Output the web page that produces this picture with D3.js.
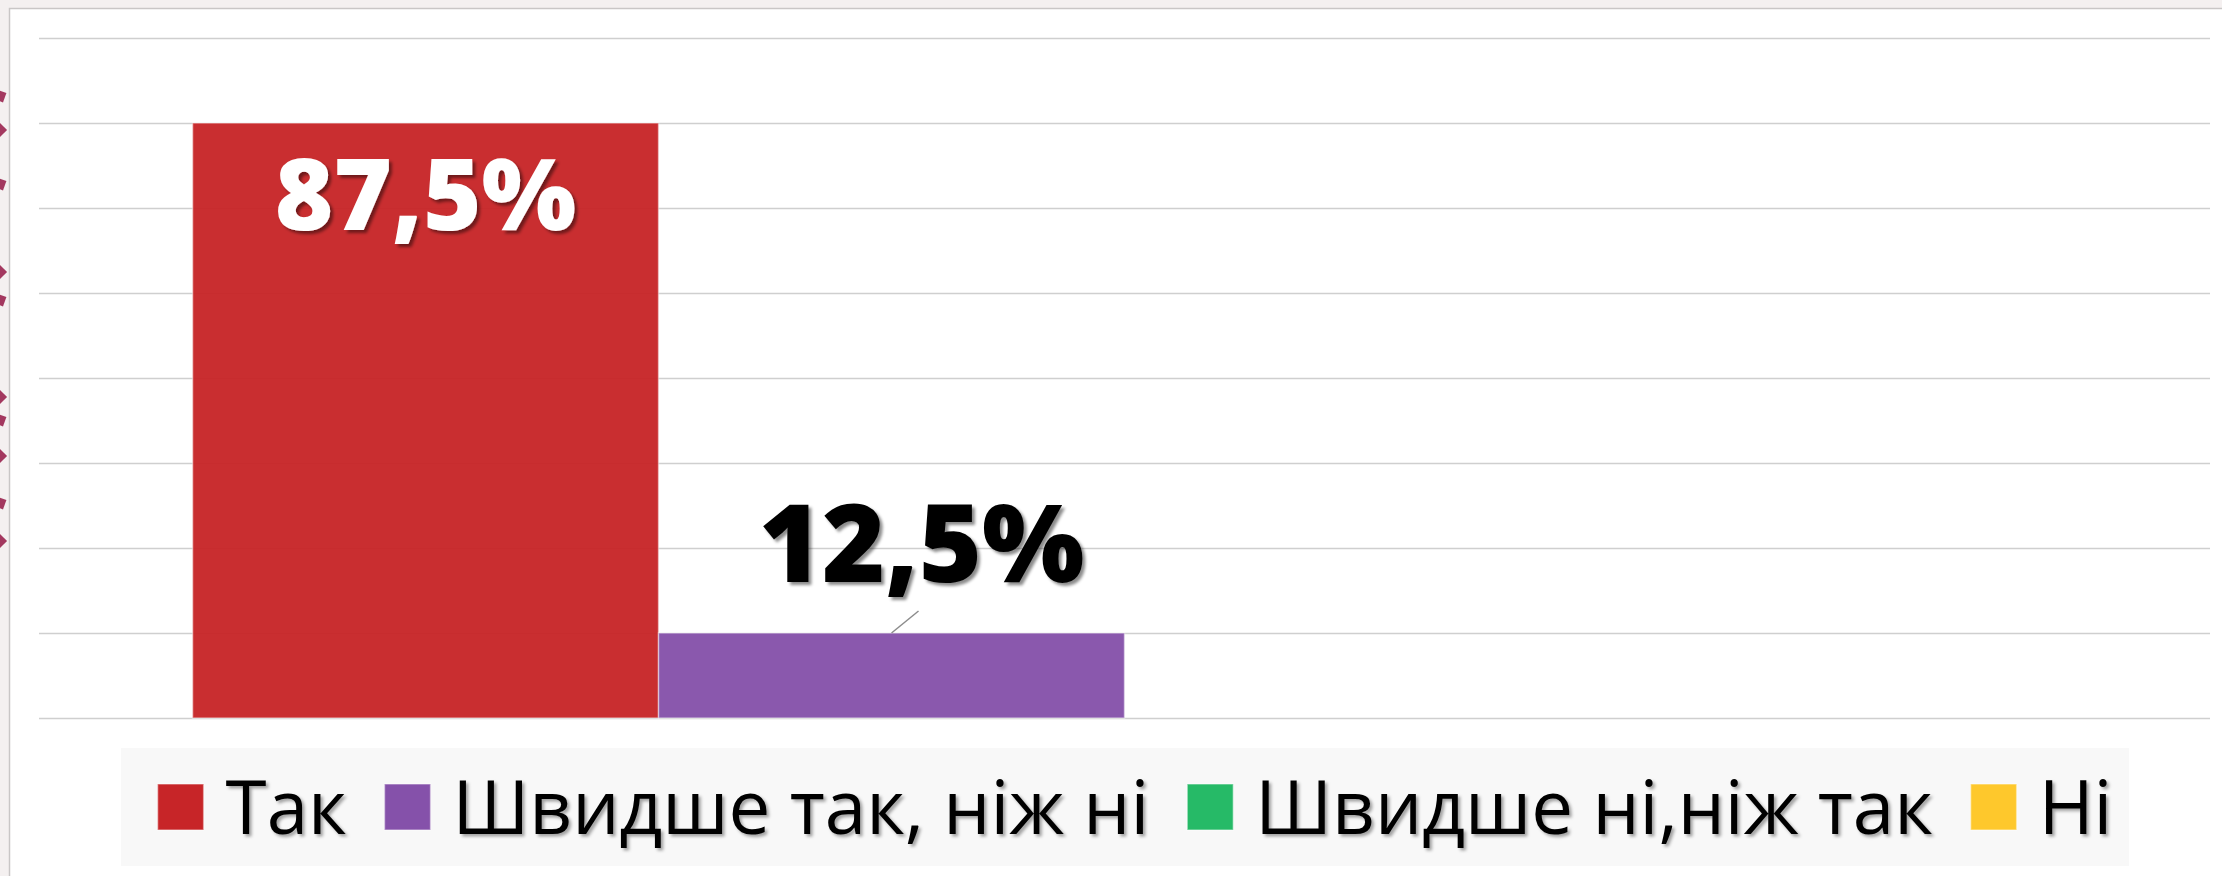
<!DOCTYPE html>
<html>
<head>
<meta charset="utf-8">
<script src="https://cdn.jsdelivr.net/npm/d3@7"></script>
<style>
	html, body { margin: 0; padding: 0; background: #f4f0f0; overflow: hidden; }
	svg { display: block; }
</style>
</head>
<body>
<div id="my_dataviz"></div>
<script>
// data
const categories = [ 'Питання' ];
const seriesNames = [ 'Так', 'Швидше так, ніж ні', 'Швидше ні,ніж так', 'Ні' ];
const seriesValues = [ 87.5, 12.5, 0, 0 ];
const valueLabels = [ '87,5%', '12,5%', '', '' ];
const seriesColors = [ '#c72528', '#8551aa', '#26ba67', '#fec82c' ];
const yTicks = [ 0, 12.5, 25, 37.5, 50, 62.5, 75, 87.5, 100 ];

let dimensions = {
	width  : 2222,
	height : 876,
	margin : {
		top    : 38,
		right  : 12,
		bottom : 158,
		left   : 39
	}
};
dimensions.boundedWidth = dimensions.width - dimensions.margin.left - dimensions.margin.right;
dimensions.boundedHeight = dimensions.height - dimensions.margin.top - dimensions.margin.bottom;

const svg = d3
	.select('#my_dataviz')
	.append('svg')
	.attr('width', dimensions.width)
	.attr('height', dimensions.height);

const defs = svg.append('defs');
defs
	.append('filter')
	.attr('id', 'label-shadow')
	.attr('x', '-10%')
	.attr('y', '-10%')
	.attr('width', '130%')
	.attr('height', '130%')
	.append('feDropShadow')
	.attr('dx', 3)
	.attr('dy', 3)
	.attr('stdDeviation', 1.6)
	.attr('flood-color', '#000')
	.attr('flood-opacity', 0.45);
defs
	.append('filter')
	.attr('id', 'legend-shadow')
	.attr('x', '-10%')
	.attr('y', '-10%')
	.attr('width', '130%')
	.attr('height', '130%')
	.append('feDropShadow')
	.attr('dx', 2.5)
	.attr('dy', 2.5)
	.attr('stdDeviation', 1.5)
	.attr('flood-color', '#000')
	.attr('flood-opacity', 0.35);

// slide decoration at the left edge
const decoY = [ 96, 130, 184, 272, 300, 397, 420, 456, 503, 541 ];
svg
	.append('g')
	.selectAll('rect')
	.data(decoY)
	.enter()
	.append('rect')
	.attr('x', -5)
	.attr('y', (d) => d - 5)
	.attr('width', 10)
	.attr('height', 10)
	.attr('fill', '#a3385f')
	.attr('transform', (d, i) => `rotate(${i % 2 ? 45 : 20}, 0, ${d})`);

// chart frame
svg
	.append('rect')
	.attr('x', 9.5)
	.attr('y', 8.5)
	.attr('width', dimensions.width)
	.attr('height', dimensions.height)
	.attr('fill', '#ffffff')
	.attr('stroke', '#c9c6c6')
	.attr('stroke-width', 1.5);

const bounds = svg
	.append('g')
	.attr('transform', `translate(${dimensions.margin.left}, ${dimensions.margin.top})`);

const y = d3.scaleLinear().domain([ 0, 100 ]).range([ dimensions.boundedHeight, 0 ]);

const x0 = d3
	.scaleBand()
	.domain(categories)
	.range([ 0, dimensions.boundedWidth ])
	.paddingInner(0)
	.paddingOuter(0.0824);

const x1 = d3.scaleBand().domain(seriesNames).range([ 0, x0.bandwidth() ]).padding(0);

// gridlines
const yAxisGenerator = d3.axisLeft(y).tickValues(yTicks).tickSize(-dimensions.boundedWidth).tickFormat('');
const yAxis = bounds.append('g').attr('class', 'y axis').call(yAxisGenerator);
yAxis.select('.domain').remove();
yAxis.selectAll('.tick line').attr('stroke', '#cfcfcf').attr('stroke-width', 1.5);

const data = seriesNames.map(function(name, i) {
	return {
		category : categories[0],
		series   : name,
		value    : seriesValues[i],
		label    : valueLabels[i],
		color    : seriesColors[i]
	};
});

const bars = bounds.append('g').attr('transform', `translate(${x0(categories[0])}, 0)`);

bars
	.selectAll('rect')
	.data(data.filter((d) => d.value > 0))
	.enter()
	.append('rect')
	.attr('x', (d) => x1(d.series))
	.attr('y', (d) => y(d.value))
	.attr('width', x1.bandwidth())
	.attr('height', (d) => y(0) - y(d.value))
	.attr('fill', (d) => d.color)
	.attr('fill-opacity', 0.96)
	.attr('stroke', '#ffffff')
	.attr('stroke-opacity', 0.45)
	.attr('stroke-width', 1.5);

// value labels: first inside the bar, second above it with a leader line
const first = data[0];
bars
	.append('text')
	.attr('x', x1(first.series) + x1.bandwidth() / 2)
	.attr('y', y(first.value) + 107)
	.attr('text-anchor', 'middle')
	.attr('font-family', "'Open Sans', 'DejaVu Sans', sans-serif")
	.attr('font-weight', 800)
	.attr('font-size', 100)
	.attr('fill', '#ffffff')
	.attr('filter', 'url(#label-shadow)')
	.text(first.label);

const second = data[1];
const cx2 = x1(second.series) + x1.bandwidth() / 2;
bars
	.append('line')
	.attr('x1', cx2)
	.attr('y1', y(second.value))
	.attr('x2', cx2 + 27)
	.attr('y2', y(second.value) - 22)
	.attr('stroke', '#8c8c8c')
	.attr('stroke-width', 1.5);
bars
	.append('text')
	.attr('x', cx2 + 30)
	.attr('y', y(second.value) - 51)
	.attr('text-anchor', 'middle')
	.attr('font-family', "'Open Sans', 'DejaVu Sans', sans-serif")
	.attr('font-weight', 800)
	.attr('font-size', 108)
	.attr('fill', '#000000')
	.attr('filter', 'url(#label-shadow)')
	.text(second.label);

// legend
const legendBox = { x: 121, y: 748, width: 2008, height: 118 };
svg
	.append('rect')
	.attr('x', legendBox.x)
	.attr('y', legendBox.y)
	.attr('width', legendBox.width)
	.attr('height', legendBox.height)
	.attr('fill', '#f8f8f8');

const swatch = 46;
const swatchGap = 22;
const itemGap = 38;
const targetWidth = 1955;

const legend = svg.append('g').attr('class', 'legend');
const items = legend.selectAll('g').data(data).enter().append('g');

items
	.append('rect')
	.attr('width', swatch)
	.attr('height', swatch)
	.attr('fill', (d) => d.color)
	.attr('stroke', '#ffffff')
	.attr('stroke-opacity', 0.4)
	.attr('stroke-width', 1.5);

const legendTexts = items
	.append('text')
	.attr('font-family', "'Open Sans', 'Liberation Sans', sans-serif")
	.attr('font-size', 80)
	.attr('fill', '#000')
	.attr('filter', 'url(#legend-shadow)')
	.text((d) => d.series);

// fit font size so the legend spans the same width as the original
let textSum = 0;
legendTexts.each(function() {
	textSum += this.getComputedTextLength();
});
const fixed = data.length * (swatch + swatchGap) + (data.length - 1) * itemGap;
const fontSize = 80 * (targetWidth - fixed) / textSum;
legendTexts.attr('font-size', fontSize);

let cursor = 0;
const offsets = [];
legendTexts.each(function() {
	offsets.push(cursor);
	cursor += swatch + swatchGap + this.getComputedTextLength() + itemGap;
});
const legendWidth = cursor - itemGap;
const startX = legendBox.x + legendBox.width / 2 - legendWidth / 2 + 10;
const midY = 807;

items.attr('transform', (d, i) => `translate(${startX + offsets[i]}, 0)`);
items.select('rect').attr('y', midY - swatch / 2);
legendTexts.attr('x', swatch + swatchGap).attr('y', midY + fontSize * 0.36);
</script>
</body>
</html>
